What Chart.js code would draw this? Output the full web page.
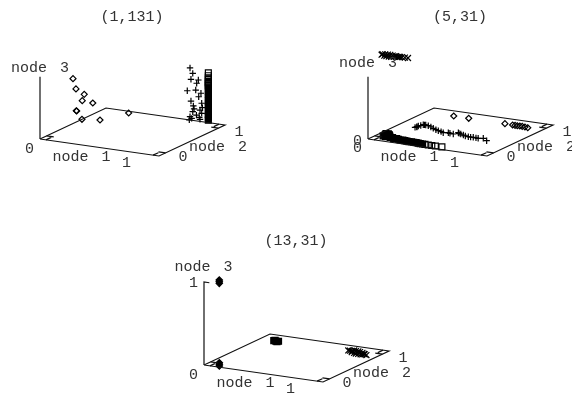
<!DOCTYPE html>
<html>
<head>
<meta charset="utf-8">
<script src="https://cdn.jsdelivr.net/npm/chart.js@4"></script>
<style>
  html, body { margin: 0; padding: 0; background: #fff; }
  body { position: relative; width: 572px; height: 395px; overflow: hidden; }
  canvas { position: absolute; }
</style>
</head>
<body>
<canvas id="p1" width="250" height="197" style="left:0;top:0"></canvas>
<canvas id="p2" width="250" height="197" style="left:328px;top:0"></canvas>
<canvas id="p3" width="250" height="169" style="left:164px;top:226px"></canvas>
<script>
// each point is [node 1, node 2, node 3]
const p1Diamonds = [[0,.5,.54],[0,.545,.4],[0,.67,.288],[0,.64,.223],[0,.8,.135],[0,.556,.13],[0,.55,.135],
  [0,.636,0],[.126,.682,0],[.215,.956,0]];
const p1Plus = [[.706,1,.627],[.729,1,.567],[.714,1,.492],[.776,1,.496],[.762,1,.454],[.683,1,.348],[.754,1,.371],
  [.798,1,.341],[.779,1,.295],[.714,1,.23],[.804,1,.222],[.734,1,.175],[.79,1,.137],[.729,1,.105],[.804,1,.101],
  [.706,1,.04],[.784,1,.048],[.72,1,.023],[.7,1,0],[.79,1,.025],[.74,1,.14],[.76,1,.07],[.81,1,.17]];
const p1Squares = [.6,.565,.54,.52,.5,.485,.47,.455,.44].map(z => [.86,1,z]);
const p1SquaresSolid = [.42,.38,.34,.3,.26,.22,.18,.14,.1,.06,.03].map(z => [.86,1,z]);

const p2Diamonds = [[.237,.872,0],[.365,.868,0],[.672,.863,0],[.74,.857,0],[.76,.858,0],[.78,.856,0],[.8,.858,0],
  [.82,.858,0],[.847,.851,0],[.875,.843,0]];
const p2Plus = [[.143,.455,0],[.146,.499,0],[.16,.549,0],[.206,.542,0],[.274,.495,0],[.339,.454,0],[.398,.422,0],
  [.431,.44,0],[.481,.425,0],[.496,.475,0],[.56,.435,0],[.615,.411,0],[.655,.414,0],[.7,.407,0],[.733,.425,0],
  [.788,.377,0],[.15,.47,0],[.145,.48,0],[.155,.52,0],[.17,.55,0],[.18,.55,0],[.24,.52,0],[.31,.47,0],[.37,.44,0],
  [.45,.43,0],[.51,.46,0],[.53,.45,0],[.585,.42,0],[.635,.41,0],[.68,.41,0]];
const p2Squares = [[.44,.07,0],[.47,.065,0],[.5,.065,0],[.53,.065,0],[.585,.065,0]];
const p2SquaresSolid = [[.04,.2,0],[.05,.17,0],[.055,.13,0],[.06,.2,0],[.07,.17,0],[.08,.18,0],[.08,.12,0],[.1,.15,0],[.12,.12,0],
  [.14,.12,0],[.16,.1,0],[.18,.11,0],[.2,.1,0],[.22,.09,0],[.24,.095,0],[.26,.09,0],[.28,.085,0],[.3,.08,0],[.32,.085,0],
  [.34,.08,0],[.36,.08,0],[.38,.075,0],[.4,.07,0],[.42,.07,0]];
const p2Cross = [[.07,.08,1],[.08,.075,1.01],[.09,.085,.99],[.1,.08,1.01],[.11,.08,.99],[.12,.085,1.01],[.13,.08,.99],
  [.14,.085,1.01],[.15,.08,.99],[.16,.085,1.005],[.17,.085,.995],[.18,.09,1],[.19,.085,1.005],[.2,.09,.995],[.21,.09,1],
  [.22,.09,1],[.235,.09,1],[.26,.09,1],[.285,.092,1]];

const p3Diamonds = [[.094,.062,1.02],[.094,.062,1],[.094,.062,.98],[.09,.07,.02],[.09,.07,0],[.09,.07,-.02]];
const p3Squares = [[.115,.85,0],[.135,.845,0],[.155,.85,0],[.12,.86,0],[.15,.835,0]];
const p3Cross = [[.73,.87,0],[.75,.86,.005],[.76,.87,0],[.77,.85,-.005],[.78,.87,.01],[.79,.85,-.01],[.8,.86,.01],[.81,.84,-.01],
  [.82,.86,.01],[.83,.84,-.01],[.84,.85,.01],[.85,.84,-.01],[.86,.85,.005],[.87,.83,-.005],[.88,.84,0],[.89,.83,0],[.91,.82,0]];

// box on the floor and the node 3 axis
const boxEdges = [[0,0,0],[1,0,0],[1,1,0],[0,1,0],[0,0,0]];
const floorTicks = [[.05,0,0],[.05,.08,0],null,[0,.1,0],[.06,.1,0],null,[.95,0,0],[.95,.08,0],null,
  [1,.1,0],[.94,.1,0],null,[1,.9,0],[.94,.9,0],null,[.95,1,0],[.95,.92,0]];
const p1AxisTop = .75;
const p3AxisTop = 1;
const tickLabels = ['0', '1'];
const axisNames = ['node 1', 'node 2', 'node 3'];
const titles = ['(1,131)', '(5,31)', '(13,31)'];

const INK = '#111';
const FONT = '15px "Liberation Mono"';

function project(p) {
  return { x: 40 + 119 * p[0] + 66 * p[1], y: 139 + 17 * p[0] - 31 * p[1] - 83 * p[2] };
}

function marks(points, style, radius, solid) {
  return {
    type: 'scatter', data: points.map(project), pointStyle: style, pointRadius: radius,
    pointBorderColor: '#000', pointBackgroundColor: solid ? '#000' : 'rgba(0,0,0,0)',
    pointBorderWidth: 1.2, showLine: false
  };
}

function line(points) {
  return {
    type: 'line', data: points.map(p => p ? project(p) : { x: null, y: null }), borderColor: INK, borderWidth: 1.2,
    pointRadius: 0, fill: false, tension: 0, spanGaps: false
  };
}

const textPlugin = {
  id: 'panelText',
  afterDraw(chart, args, opts) {
    const ctx = chart.ctx;
    const sx = chart.scales.x, sy = chart.scales.y;
    ctx.save();
    ctx.font = FONT;
    ctx.wordSpacing = '4px';
    ctx.fillStyle = '#333';
    ctx.textAlign = 'center';
    ctx.textBaseline = 'middle';
    opts.items.forEach(t => ctx.fillText(t[0], sx.getPixelForValue(t[1]), sy.getPixelForValue(t[2])));
    ctx.restore();
  }
};

function drawPanel(id, height, datasets, items) {
  new Chart(document.getElementById(id), {
    type: 'scatter',
    data: { datasets: datasets },
    options: {
      responsive: false,
      animation: false,
      layout: { padding: 0, autoPadding: false },
      events: [],
      clip: false,
      scales: {
        x: { type: 'linear', display: false, min: 0, max: 250 },
        y: { type: 'linear', display: false, min: 0, max: height, reverse: true }
      },
      plugins: { legend: { display: false }, tooltip: { enabled: false }, panelText: { items: items } }
    },
    plugins: [textPlugin]
  });
}

drawPanel('p1', 197, [
  line(boxEdges), line([[0,0,0],[0,0,p1AxisTop]]), line(floorTicks),
  marks(p1Diamonds, 'rectRot', 3), marks(p1Plus, 'cross', 3.2),
  marks(p1Squares, 'rect', 4.2), marks(p1SquaresSolid, 'rect', 4.2, true)
], [
  [titles[0], 132, 17], [axisNames[2], 40, 68], [axisNames[0], 81.5, 157], [axisNames[1], 218, 147],
  [tickLabels[0], 29.5, 149], [tickLabels[1], 126.5, 163], [tickLabels[0], 183, 157.5], [tickLabels[1], 239, 132.5]
]);

drawPanel('p2', 197, [
  line(boxEdges), line([[0,0,0],[0,0,p1AxisTop]]), line(floorTicks),
  marks(p2Diamonds, 'rectRot', 3), marks(p2Plus, 'cross', 3.2), marks(p2Squares, 'rect', 4.2),
  marks(p2SquaresSolid, 'rect', 4.2, true), marks(p2Cross, 'crossRot', 4.2)
], [
  [titles[1], 132, 17], [axisNames[2], 40, 63], [axisNames[0], 81.5, 157], [axisNames[1], 218, 147],
  [tickLabels[0], 29.5, 141], [tickLabels[0], 29.5, 148], [tickLabels[1], 126.5, 163], [tickLabels[0], 183, 157.5], [tickLabels[1], 239, 132.5]
]);

drawPanel('p3', 169, [
  line(boxEdges), line([[0,0,0],[0,0,p3AxisTop],[.045,0,p3AxisTop]]), line(floorTicks),
  marks(p3Diamonds, 'rectRot', 3.2, true), marks(p3Squares, 'rect', 4.2, true), marks(p3Cross, 'crossRot', 4.2)
], [
  [titles[2], 132, 15], [axisNames[2], 39.5, 41], [axisNames[0], 81.5, 157], [axisNames[1], 218, 147],
  [tickLabels[1], 29.5, 57], [tickLabels[0], 29.5, 149], [tickLabels[1], 126.5, 163], [tickLabels[0], 183, 157.5], [tickLabels[1], 239, 132.5]
]);
</script>
</body>
</html>
